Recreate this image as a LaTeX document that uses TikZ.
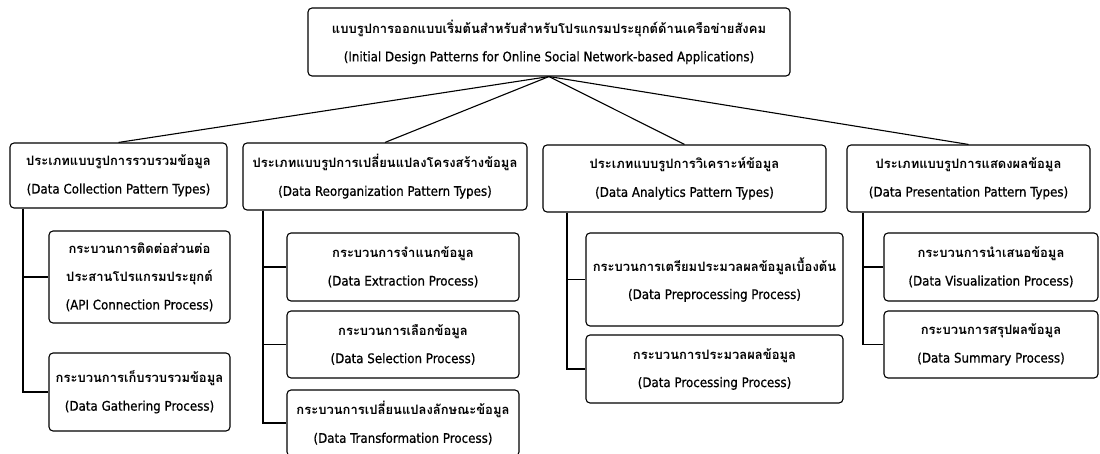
\documentclass[tikz,border=0pt]{standalone}
\usepackage{fontspec}
\setmainfont[Script=Thai]{Loma}
\newfontfamily\latf[FakeBold=0.7]{DejaVu Sans Condensed}
\newcommand{\entxt}[1]{{\latf\mdseries\fontsize{13.2}{28}\selectfont #1}}
\begin{document}
\begin{tikzpicture}[x=1pt,y=-1pt,
  box/.style={draw, line width=1.1pt, rounded corners=4pt, align=center, inner sep=0pt, font=\fontsize{13}{28}\selectfont\bfseries},
  conn/.style={line width=1.1pt}]
\useasboundingbox (0,0) rectangle (1100,454);
\node[box, minimum width=482, minimum height=68] (top) at (549,42) {แบบรูปการออกแบบเริ่มต้นสำหรับสำหรับโปรแกรมประยุกต์ด้านเครือข่ายสังคม\\\entxt{(Initial Design Patterns for Online Social Network-based Applications)}};
\node[box, minimum width=217, minimum height=65] (c1) at (118.5,175.5) {ประเภทแบบรูปการรวบรวมข้อมูล\\\entxt{(Data Collection Pattern Types)}};
\node[box, minimum width=284, minimum height=67] (c2) at (385,176.5) {ประเภทแบบรูปการเปลี่ยนแปลงโครงสร้างข้อมูล\\\entxt{(Data Reorganization Pattern Types)}};
\node[box, minimum width=283, minimum height=67] (c3) at (684.5,178.5) {ประเภทแบบรูปการวิเคราะห์ข้อมูล\\\entxt{(Data Analytics Pattern Types)}};
\node[box, minimum width=243, minimum height=67] (c4) at (968.5,178.5) {ประเภทแบบรูปการแสดงผลข้อมูล\\\entxt{(Data Presentation Pattern Types)}};
\node[box, minimum width=181, minimum height=92] (c1a) at (139.5,277) {กระบวนการติดต่อส่วนต่อ\\ประสานโปรแกรมประยุกต์\\\entxt{(API Connection Process)}};
\node[box, minimum width=181, minimum height=78] (c1b) at (139.5,392) {กระบวนการเก็บรวบรวมข้อมูล\\\entxt{(Data Gathering Process)}};
\node[box, minimum width=232, minimum height=68] (c2a) at (403,267) {กระบวนการจำแนกข้อมูล\\\entxt{(Data Extraction Process)}};
\node[box, minimum width=232, minimum height=67] (c2b) at (403,344.5) {กระบวนการเลือกข้อมูล\\\entxt{(Data Selection Process)}};
\node[box, minimum width=232, minimum height=66] (c2c) at (403,423) {กระบวนการเปลี่ยนแปลงลักษณะข้อมูล\\\entxt{(Data Transformation Process)}};
\node[box, minimum width=257, minimum height=93] (c3a) at (714.5,279.5) {กระบวนการเตรียมประมวลผลข้อมูลเบื้องต้น\\\entxt{(Data Preprocessing Process)}};
\node[box, minimum width=257, minimum height=68] (c3b) at (714.5,369) {กระบวนการประมวลผลข้อมูล\\\entxt{(Data Processing Process)}};
\node[box, minimum width=214, minimum height=68] (c4a) at (991,267) {กระบวนการนำเสนอข้อมูล\\\entxt{(Data Visualization Process)}};
\node[box, minimum width=214, minimum height=67] (c4b) at (991,344.5) {กระบวนการสรุปผลข้อมูล\\\entxt{(Data Summary Process)}};
\coordinate (t1) at (23,0);
\coordinate (t2) at (263,0);
\coordinate (t3) at (567,0);
\coordinate (t4) at (863,0);
\foreach \c in {c1,c2,c3,c4} \draw[conn] (top.south) -- (\c.north);
\draw[conn] (c1.south -| t1) |- (c1a.west);
\draw[conn] (c1.south -| t1) |- (c1b.west);
\draw[conn] (c2.south -| t2) |- (c2a.west);
\draw[conn] (c2.south -| t2) |- (c2b.west);
\draw[conn] (c2.south -| t2) |- (c2c.west);
\draw[conn] (c3.south -| t3) |- (c3a.west);
\draw[conn] (c3.south -| t3) |- (c3b.west);
\draw[conn] (c4.south -| t4) |- (c4a.west);
\draw[conn] (c4.south -| t4) |- (c4b.west);
\end{tikzpicture}
\end{document}
